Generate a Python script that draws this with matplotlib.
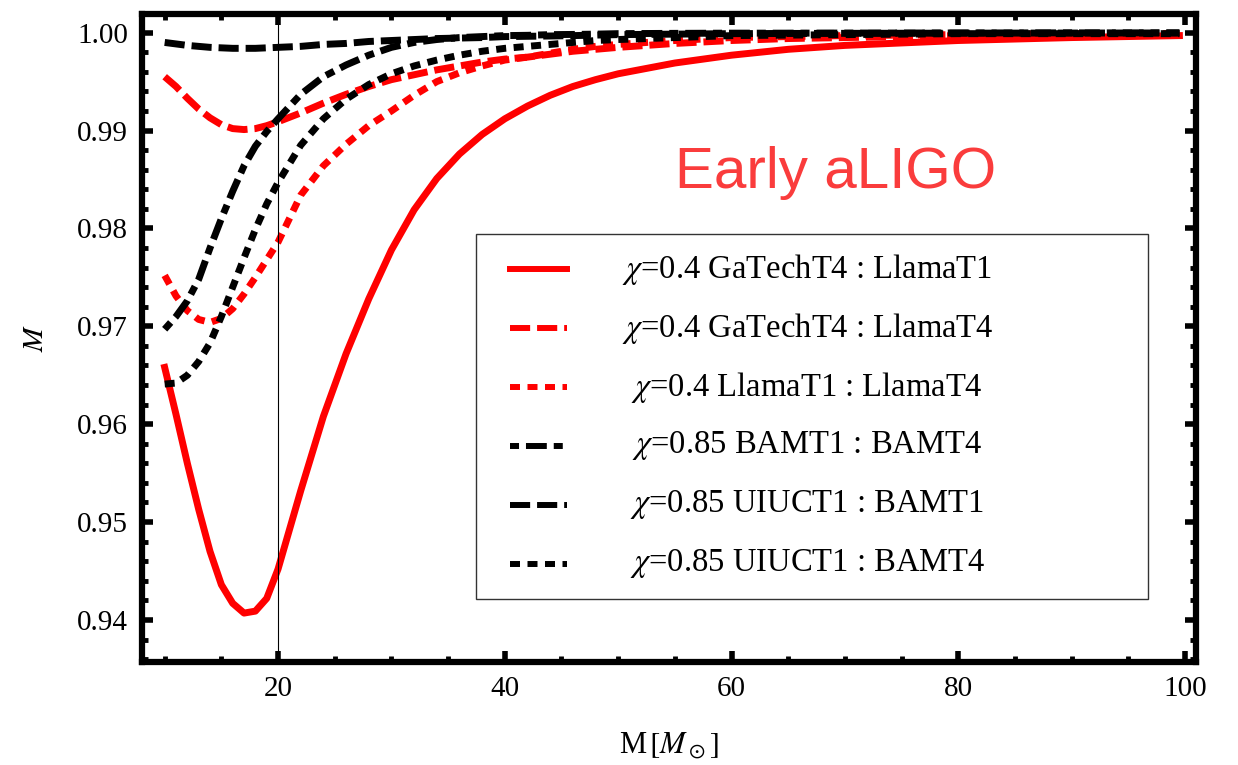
import numpy as np
import matplotlib.pyplot as plt
from matplotlib.lines import Line2D
from matplotlib.ticker import MultipleLocator

plt.rcParams['font.family'] = ['Liberation Serif', 'DejaVu Serif']
plt.rcParams['mathtext.fontset'] = 'stix'
plt.rcParams['lines.scale_dashes'] = False

# total mass grid and match values for each waveform pair
mass = [10, 11, 12, 13, 14, 15, 16, 17, 18, 19, 20, 22, 24, 26, 28, 30,
        32, 34, 36, 38, 40, 42, 44, 46, 48, 50, 55, 60, 65, 70, 80, 90, 99.5]

gatech_llama1 = [0.9658, 0.9610, 0.9560, 0.9513, 0.9470, 0.9436, 0.9417, 0.9407,
                 0.9409, 0.9422, 0.9452, 0.9532, 0.9608, 0.9672, 0.9728, 0.9778,
                 0.9819, 0.9851, 0.9876, 0.9896, 0.9912, 0.9925, 0.9936, 0.9945,
                 0.9952, 0.9958, 0.9969, 0.9977, 0.9983, 0.9987, 0.9992, 0.9995,
                 0.9997]
gatech_llama4 = [0.9955, 0.9945, 0.9933, 0.9922, 0.9913, 0.9906, 0.9902, 0.9901,
                 0.9902, 0.9905, 0.9909, 0.9918, 0.9928, 0.9937, 0.9945, 0.9952,
                 0.9957, 0.9962, 0.9966, 0.9970, 0.9973, 0.9975, 0.9978, 0.9981,
                 0.9983, 0.9985, 0.9989, 0.9992, 0.9994, 0.9995, 0.9997, 0.9998,
                 0.9999]
llama1_llama4 = [0.9752, 0.9731, 0.9716, 0.9707, 0.9704, 0.9708, 0.9718, 0.9733,
                 0.9750, 0.9768, 0.9786, 0.9834, 0.9864, 0.9886, 0.9905, 0.9920,
                 0.9936, 0.9950, 0.9959, 0.9966, 0.9972, 0.9975, 0.9979, 0.9983,
                 0.9986, 0.9988, 0.9992, 0.9995, 0.9996, 0.9997, 0.9998, 0.9999,
                 0.9999]
bam1_bam4 = [0.9697, 0.9710, 0.9726, 0.9748, 0.9780, 0.9810, 0.9838, 0.9864,
             0.9884, 0.9899, 0.9912, 0.9937, 0.9955, 0.9967, 0.9977, 0.9985,
             0.9990, 0.9993, 0.9995, 0.9996, 0.9997, 0.99973, 0.9998, 0.99982,
             0.99985, 0.9999, 0.99993, 0.99995, 0.99995, 0.99996, 0.99997,
             0.99998, 0.99998]
uiuc_bam1 = [0.9990, 0.99885, 0.9987, 0.9986, 0.9985, 0.99845, 0.9984, 0.9984,
             0.9984, 0.99845, 0.9985, 0.9986, 0.9988, 0.9989, 0.9991, 0.9992,
             0.9993, 0.9994, 0.99945, 0.9995, 0.9996, 0.99963, 0.99966, 0.9997,
             0.99975, 0.9998, 0.99985, 0.9999, 0.99992, 0.99993, 0.99995,
             0.99996, 0.99997]
uiuc_bam4 = [0.9641, 0.9642, 0.9650, 0.9664, 0.9683, 0.9710, 0.9740, 0.9770,
             0.9799, 0.9825, 0.9847, 0.9885, 0.9912, 0.9932, 0.9947, 0.9958,
             0.9966, 0.9972, 0.9977, 0.9981, 0.9984, 0.9986, 0.9988, 0.9990,
             0.9992, 0.9993, 0.9995, 0.9997, 0.99975, 0.9998, 0.9999, 0.9999,
             0.9999]

labels = [r'$\chi$=0.4 GaTechT4 : LlamaT1',
          r'$\chi$=0.4 GaTechT4 : LlamaT4',
          r'$\chi$=0.4 LlamaT1 : LlamaT4',
          r'$\chi$=0.85 BAMT1 : BAMT4',
          r'$\chi$=0.85 UIUCT1 : BAMT1',
          r'$\chi$=0.85 UIUCT1 : BAMT4']

dashed = (0, (14.5, 5))
dotted = (0, (7.2, 5.4))
dashdot = (0, (6.5, 5, 15, 5))
styles = [('red', '-'), ('red', dashed), ('red', dotted),
          ('black', dashdot), ('black', dashed), ('black', dotted)]
series = [gatech_llama1, gatech_llama4, llama1_llama4,
          bam1_bam4, uiuc_bam1, uiuc_bam4]

fig = plt.figure(figsize=(12.38, 7.65), dpi=100)
ax = fig.add_axes([0.1147, 0.1346, 0.8517, 0.8470])

for y, (c, ls) in zip(series, styles):
    ax.plot(mass, y, color=c, ls=ls, lw=5, dash_capstyle='butt')

ax.axvline(20, color='black', lw=0.8)

ax.set_xlim(8, 101)
ax.set_ylim(0.9357, 1.0019)
ax.xaxis.set_major_locator(MultipleLocator(20))
ax.xaxis.set_minor_locator(MultipleLocator(5))
ax.yaxis.set_major_locator(MultipleLocator(0.01))
ax.yaxis.set_minor_locator(MultipleLocator(0.002))
ax.yaxis.set_major_formatter(plt.FuncFormatter(lambda v, p: f'{v:.2f}'))
ax.tick_params(which='both', direction='in', top=True, right=True,
               labelsize=21, pad=10)
ax.tick_params(which='major', length=8, width=4)
ax.tick_params(which='minor', length=4.5, width=3.5)
for s in ax.spines.values():
    s.set_linewidth(4.5)

ax.set_xlabel(r'M$\,[M_\odot]$', fontsize=22, labelpad=20)
ax.set_ylabel(r'$M$', fontsize=21, labelpad=20)

ax.text(0.658, 0.754, 'Early aLIGO', transform=ax.transAxes,
        family='Liberation Sans', fontsize=42, color='#fa3c3c',
        ha='center', va='center')

# legend drawn by hand so the labels sit centred in the box
box = plt.Rectangle((0.317, 0.098), 0.637, 0.562, transform=ax.transAxes,
                    fill=False, ec='#333333', lw=1)
ax.add_patch(box)
for i, ((c, ls), lab) in enumerate(zip(styles, labels)):
    yy = 0.606 - i * 0.0908
    ax.add_line(Line2D([0.349, 0.403], [yy, yy], transform=ax.transAxes,
                       color=c, ls=ls, lw=4.3, dash_capstyle='butt'))
    ax.text(0.631, yy, lab, transform=ax.transAxes, fontsize=23.5,
            ha='center', va='center')

fig.savefig('out.png', dpi=100)
